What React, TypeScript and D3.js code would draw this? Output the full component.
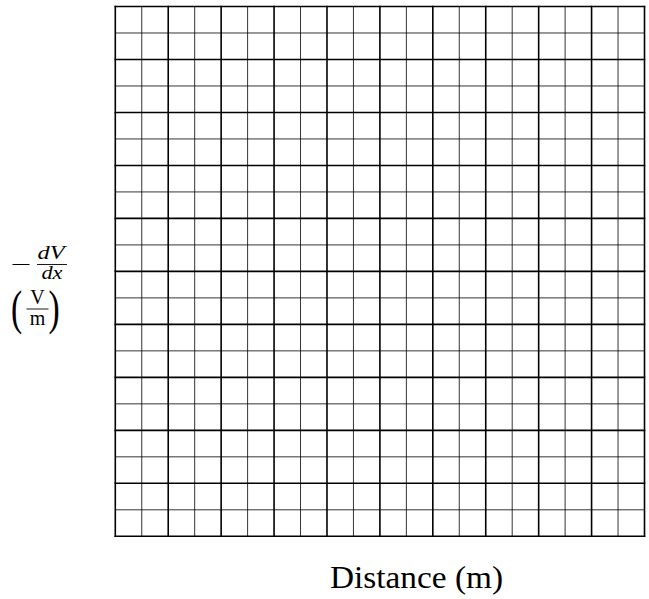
import React from "react";
import * as d3 from "d3";

// Blank graph paper: 20 x 20 cells, heavier rule every 2 cells.
const xDomain = [0, 20];
const yDomain = [0, 20];
const xCells = d3.range(0, 21);
const yCells = d3.range(0, 21);
const majorEvery = 2;
const xTitle = "Distance (m)";

const W = 649;
const H = 599;
const plot = { left: 115.3, right: 644.5, top: 6.5, bottom: 536.3 };

export default function App() {
  const x = d3.scaleLinear().domain(xDomain).range([plot.left, plot.right]);
  const y = d3.scaleLinear().domain(yDomain).range([plot.bottom, plot.top]);

  const isMajor = (v: number) => v % majorEvery === 0;
  const serif = "'Liberation Serif', 'DejaVu Serif', serif";

  const minorV = xCells.filter((v) => !isMajor(v));
  const majorV = xCells.filter(isMajor);
  const minorH = yCells.filter((v) => !isMajor(v));
  const majorH = yCells.filter(isMajor);

  return (
    <svg
      width={W}
      height={H}
      viewBox={`0 0 ${W} ${H}`}
      style={{ position: "absolute", left: 0, top: 0, background: "#fff" }}
    >
      <g stroke="#000" fill="none">
        {minorV.map((v) => (
          <line key={"mv" + v} x1={x(v)} x2={x(v)} y1={y(yDomain[0])} y2={y(yDomain[1])} strokeWidth={0.8} />
        ))}
        {minorH.map((v) => (
          <line key={"mh" + v} y1={y(v)} y2={y(v)} x1={x(xDomain[0])} x2={x(xDomain[1])} strokeWidth={0.8} />
        ))}
        {majorV.map((v) => (
          <line key={"Mv" + v} x1={x(v)} x2={x(v)} y1={y(yDomain[0]) + 0.8} y2={y(yDomain[1]) - 0.8} strokeWidth={1.6} />
        ))}
        {majorH.map((v) => (
          <line key={"Mh" + v} y1={y(v)} y2={y(v)} x1={x(xDomain[0]) - 0.8} x2={x(xDomain[1]) + 0.8} strokeWidth={1.6} />
        ))}
      </g>

      {/* x-axis title */}
      <text
        x={416.5}
        y={588}
        textAnchor="middle"
        fontFamily={serif}
        fontSize={32}
        textLength={173}
        lengthAdjust="spacingAndGlyphs"
        fill="#000"
      >
        {xTitle}
      </text>

      {/* y-axis title: −dV/dx over (V/m) */}
      <g fontFamily={serif} fill="#000">
        <line x1={12.5} x2={29.5} y1={264.5} y2={264.5} stroke="#000" strokeWidth={1} />
        <text x={37.5} y={259} fontSize={19} fontStyle="italic" textLength={27} lengthAdjust="spacingAndGlyphs">dV</text>
        <line x1={37} x2={67} y1={264.5} y2={264.5} stroke="#000" strokeWidth={0.9} />
        <text x={41.5} y={279} fontSize={19} fontStyle="italic" textLength={21} lengthAdjust="spacingAndGlyphs">dx</text>

        <text transform="translate(16.5,324) scale(0.7,1)" textAnchor="middle" fontSize={48}>(</text>
        <text x={37.5} y={304} textAnchor="middle" fontSize={20}>V</text>
        <line x1={26.5} x2={48.5} y1={309} y2={309} stroke="#000" strokeWidth={0.9} />
        <text x={37.5} y={325} textAnchor="middle" fontSize={20}>m</text>
        <text transform="translate(54,324) scale(0.7,1)" textAnchor="middle" fontSize={48}>)</text>
      </g>
    </svg>
  );
}
